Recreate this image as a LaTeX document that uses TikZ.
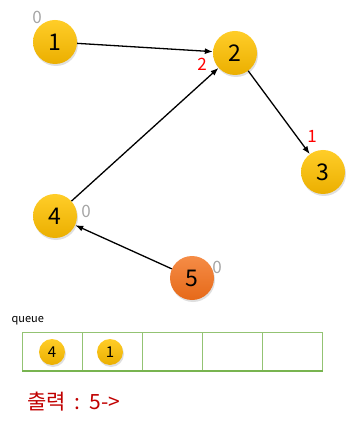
\documentclass[tikz,border=0pt]{standalone}
\usepackage{fontspec}
\setmainfont{Noto Sans CJK KR}
\usetikzlibrary{arrows.meta}
\usetikzlibrary{shadows}
\definecolor{goldtop}{RGB}{255,205,40}
\definecolor{goldbot}{RGB}{235,175,0}
\definecolor{orangetop}{RGB}{245,140,70}
\definecolor{orangebot}{RGB}{230,105,25}
\definecolor{qgreen}{RGB}{120,180,80}
\definecolor{outred}{RGB}{192,0,0}

\begin{document}
\begin{tikzpicture}[x=1pt,y=-1pt]
\tikzstyle{vertex}=[circle,minimum size=44pt,inner sep=0pt,top color=goldtop,bottom color=goldbot,drop shadow={opacity=0.25,shadow xshift=1pt,shadow yshift=-2pt},font=\fontsize{23}{23}\selectfont]
\tikzstyle{start}=[vertex,top color=orangetop,bottom color=orangebot]
\tikzstyle{small}=[vertex,minimum size=26pt,font=\fontsize{15}{15}\selectfont]
\tikzstyle{edge}=[-{Latex[length=8pt,width=6pt]},line width=1.3pt]
\tikzstyle{indeg}=[text=gray!70,font=\fontsize{17}{17}\selectfont]
\tikzstyle{changed}=[text=red,font=\fontsize{17}{17}\selectfont]
\useasboundingbox (0,0) rectangle (351,427);
\node[vertex] (A) at (55,42) {1};
\node[vertex] (B) at (235,53) {2};
\node[vertex] (C) at (323,172) {3};
\node[vertex] (D) at (55,216) {4};
\node[start] (E) at (192,278) {5};
\draw[edge] (A) -- (B);
\draw[edge] (B) -- (C);
\draw[edge] (D) -- (B);
\draw[edge] (E) -- (D);
\node[indeg] at (37,17) {0};
\node[indeg] at (86,211) {0};
\node[indeg] at (217,267) {0};
\node[changed] at (202,64) {2};
\node[changed] at (312,136) {1};
\node[anchor=west,font=\fontsize{11}{11}\selectfont] (Q) at (8,321) {queue};
\foreach \i in {0,...,4}
  \draw[qgreen!80,line width=0.8pt] (22+60*\i,332) rectangle (82+60*\i,371);
\draw[qgreen,line width=2pt] (22,371) -- (323,371);
\node[small] (Q1) at (52,352) {4};
\node[small] (Q2) at (110,352) {1};
\node[anchor=west,text=outred,font=\fontsize{21}{21}\selectfont] (O) at (24,402) {출력 \,:\, 5->};
\end{tikzpicture}
\end{document}
